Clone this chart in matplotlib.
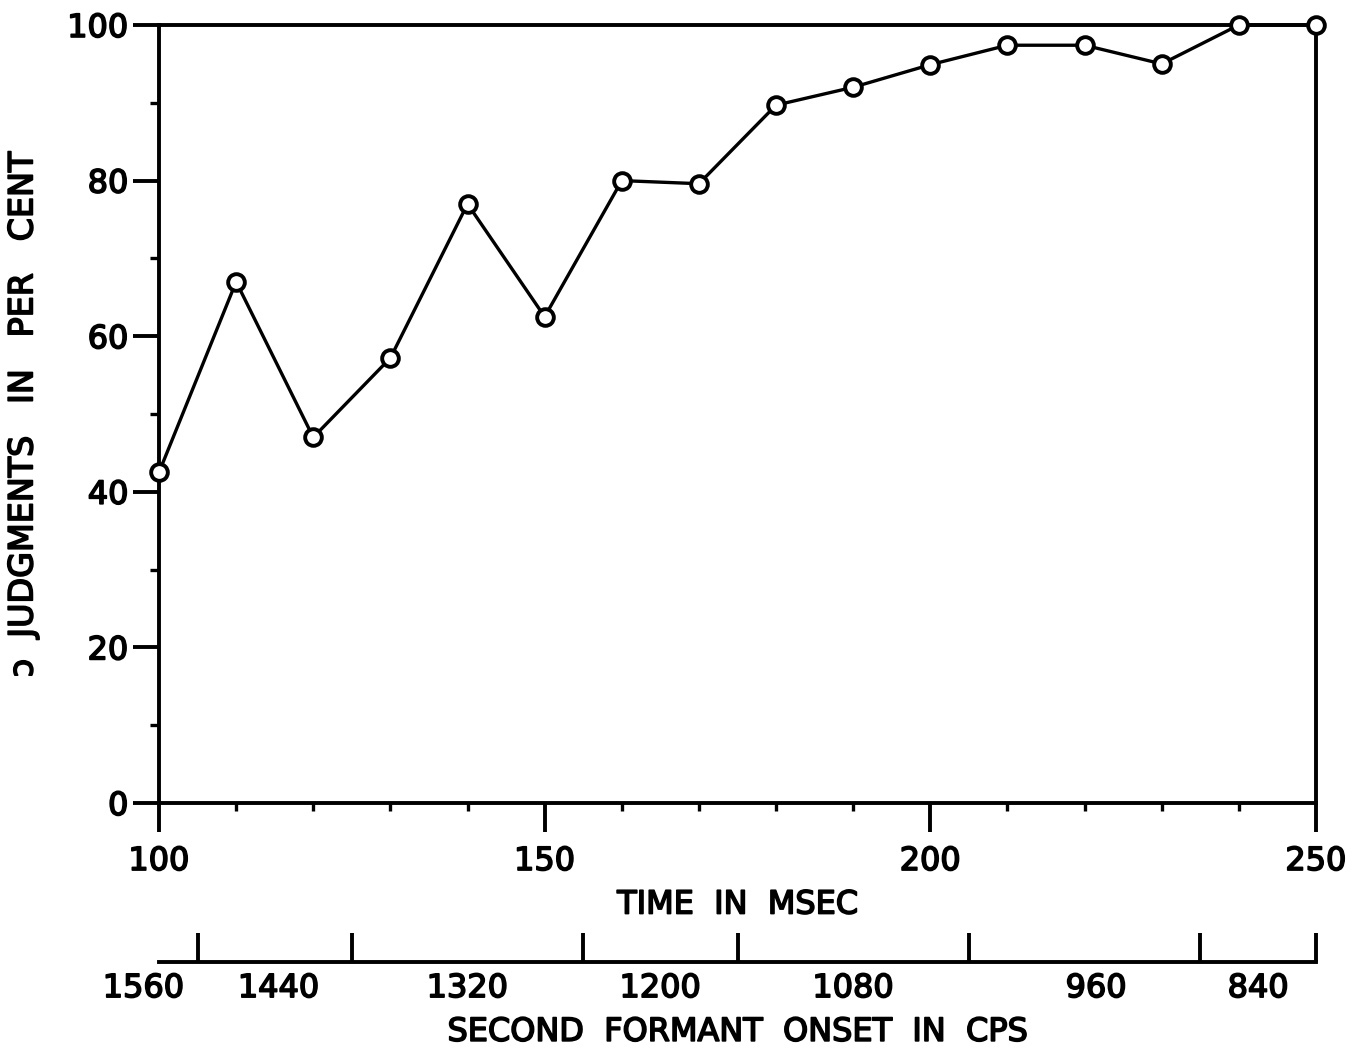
import matplotlib
matplotlib.use("Agg")
import matplotlib.pyplot as plt
import matplotlib.patheffects as pe
from matplotlib.ticker import FixedLocator, NullFormatter

# onset time (msec) and per cent of judgments
time_ms = [100, 110, 120, 130, 140, 150, 160, 170, 180, 190, 200, 210, 220, 230, 240, 250]
pct = [42.5, 67, 47, 57.2, 77, 62.5, 80, 79.6, 89.7, 92, 94.9, 97.4, 97.4, 95, 100, 100]

# second formant onset scale (bands in msec units)
f2_edges = [105, 125, 155, 175, 205, 235, 250]
f2_label_pos = [98, 115.5, 140, 165, 190, 221.5, 242.5]
f2_labels = ["1560", "1440", "1320", "1200", "1080", "960", "840"]

plt.rcParams['font.family'] = ['DejaVu Sans']
heavy = [pe.withStroke(linewidth=1.2, foreground='black')]
W, H = 1359, 1052
fig = plt.figure(figsize=(W / 100, H / 100), dpi=100)

ax = fig.add_axes([159 / W, 1 - 803 / H, 1157 / W, 778 / H])
ax.plot(time_ms, pct, '-', color='black', linewidth=2.4, marker='o',
        markersize=12, markerfacecolor='white', markeredgecolor='black',
        markeredgewidth=2.8, clip_on=False, zorder=5)
ax.set_xlim(100, 250)
ax.set_ylim(0, 100)
for s in ax.spines.values():
    s.set_linewidth(2.8)

ax.set_xticks([100, 150, 200, 250])
ax.set_xticks(range(100, 251, 10), minor=True)
ax.set_yticks(range(0, 101, 20))
ax.set_yticks(range(10, 100, 20), minor=True)
ax.tick_params(axis='x', which='major', direction='out', length=21, width=2.8,
               pad=10, labelsize=23)
ax.tick_params(axis='x', which='minor', direction='out', length=6, width=2.4)
ax.tick_params(axis='y', which='major', direction='out', length=19, width=2.8,
               pad=3, labelsize=23)
ax.tick_params(axis='y', which='minor', direction='out', length=6.5, width=2.4)
for lab in ax.get_xticklabels() + ax.get_yticklabels():
    lab.set_path_effects(heavy)
ax.set_xlabel("TIME  IN  MSEC", fontsize=23, labelpad=9, path_effects=heavy)
ax.set_ylabel("ɔ  JUDGMENTS   IN   PER   CENT", fontsize=24, labelpad=20,
              path_effects=heavy)

# lower scale: second formant onset
ax2 = fig.add_axes([159 / W, 1 - 962 / H, 1157 / W, 0.001])
ax2.set_xlim(100, 250)
ax2.set_ylim(0, 1)
for side in ['left', 'right', 'top']:
    ax2.spines[side].set_visible(False)
ax2.spines['bottom'].set_linewidth(2.8)
ax2.set_yticks([])
ax2.xaxis.set_major_locator(FixedLocator(f2_edges))
ax2.xaxis.set_major_formatter(NullFormatter())
ax2.tick_params(axis='x', which='major', direction='in', length=21, width=2.8)
for pos, lab in zip(f2_label_pos, f2_labels):
    ax2.annotate(lab, (pos, 0), xytext=(0, -8), textcoords='offset points',
                 ha='center', va='top', fontsize=23, path_effects=heavy,
                 annotation_clip=False)
ax2.set_xlabel("SECOND  FORMANT  ONSET  IN  CPS", fontsize=23, labelpad=36,
               path_effects=heavy)
ax2.patch.set_visible(False)

fig.savefig("out.png", dpi=100)
